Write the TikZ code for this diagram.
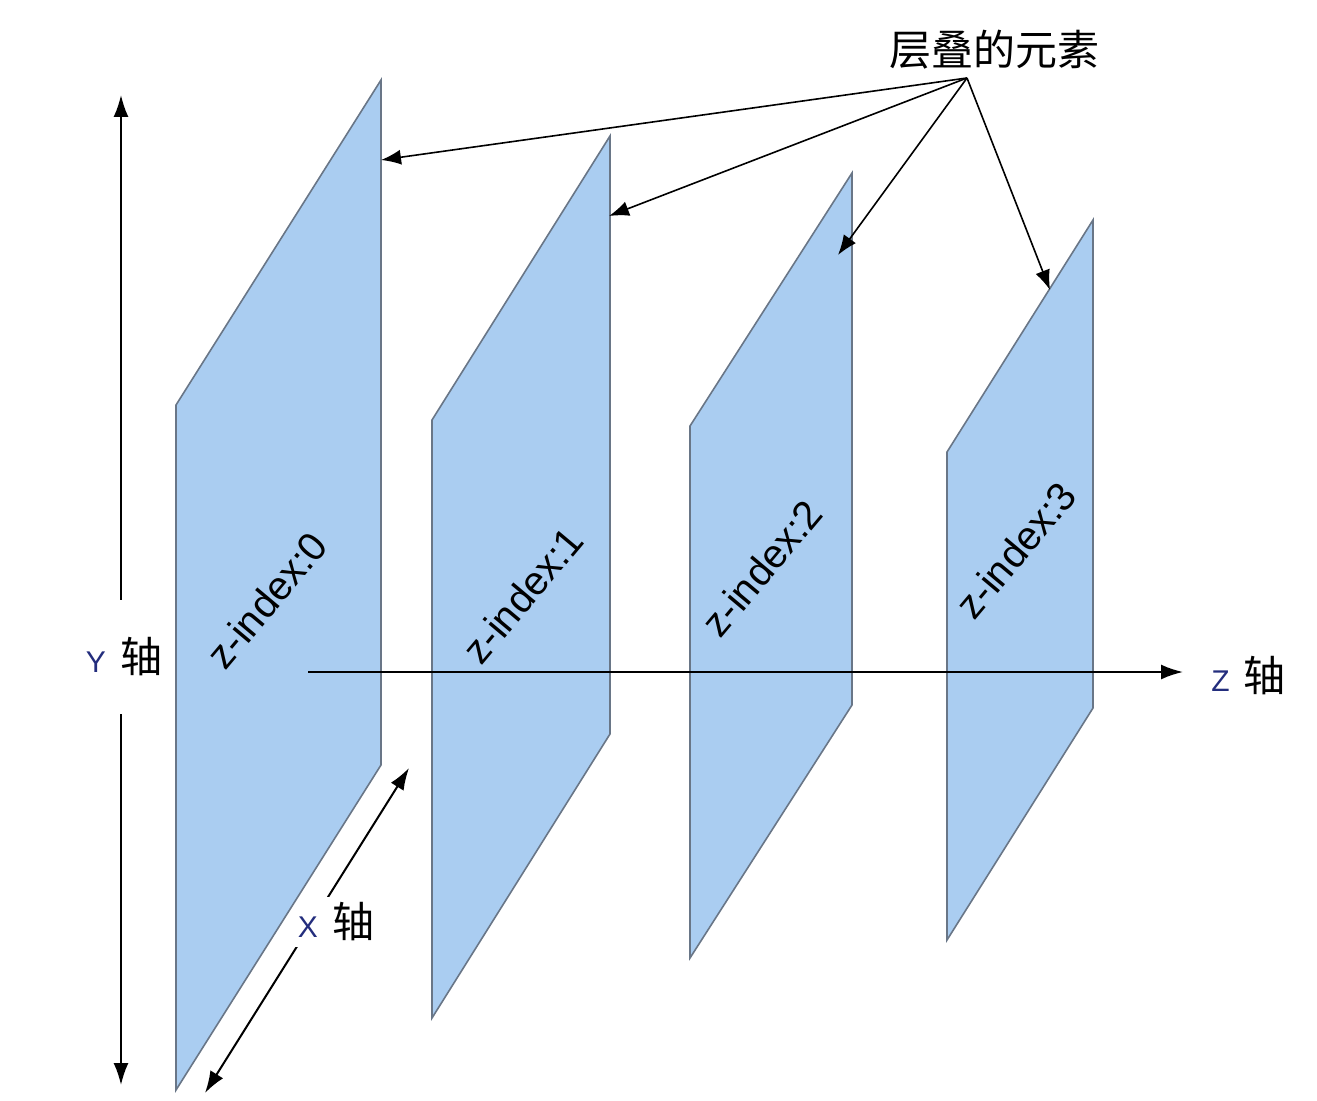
\documentclass[tikz,border=0pt]{standalone}
\usepackage{fontspec}
\setmainfont{Liberation Sans}
\newfontfamily\cjk{Noto Sans CJK SC}
\usetikzlibrary{arrows.meta, positioning, calc}
\definecolor{layerFill}{RGB}{170,205,241}
\definecolor{layerEdge}{RGB}{105,118,135}
\definecolor{axisLetter}{RGB}{35,45,125}
\newcommand{\axisname}[1]{{\fontsize{15}{15}\selectfont\color{axisLetter}#1}\hspace{7pt}{\cjk\fontsize{21}{21}\selectfont 轴}}

\begin{document}
\begin{tikzpicture}[
    x=0.5pt, y=-0.5pt,
    layer/.style={draw=layerEdge, line width=0.8pt, fill=layerFill},
    layerLabel/.style={rotate=50, font=\fontsize{20}{20}\selectfont, inner sep=0pt},
    axisArrow/.style={{Latex[length=11pt,width=7.5pt]}-{Latex[length=11pt,width=7.5pt]}, line width=1pt},
    zArrow/.style={-{Latex[length=11pt,width=7.5pt]}, line width=1pt},
    tagArrow/.style={-{Latex[length=10pt,width=7.5pt]}, line width=0.8pt},
    axisTag/.style={fill=white, inner xsep=3pt, inner ysep=3pt},
    yTag/.style={fill=white, inner xsep=2pt, inner ysep=19pt}
]
\useasboundingbox (0,0) rectangle (1317,1101);

% ============== X axis (under the layers) ==============
\coordinate (xhi) at (409,768);
\coordinate (xlo) at (205,1093);
\draw[axisArrow] (xlo) -- (xhi);
\node[axisTag] (xname) at (336,922) {\axisname{X}};

% ============== Layers ==============
\foreach \n/\xl/\yl/\xr/\yr/\h in {0/176/405/381/80/685, 1/432/420/610/136/598, 2/690/426/852/173/532, 3/947/452/1093/220/488}{
  \draw[layer] (\xl,\yl) coordinate (l\n tl) -- (\xr,\yr) coordinate (l\n tr)
    -- (\xr,{\yr+\h}) coordinate (l\n br) -- (\xl,{\yl+\h}) coordinate (l\n bl) -- cycle;
}
\node[layerLabel] (z0) at (267,600) {z-index:0};
\node[layerLabel] (z1) at (523,595) {z-index:1};
\node[layerLabel] (z2) at (762,568) {z-index:2};
\node[layerLabel] (z3) at (1016,550) {z-index:3};

% ============== Y / Z axes ==============
\coordinate (ytop) at (121,95);
\coordinate (ybot) at (121,1085);
\draw[axisArrow] (ytop) -- (ybot);
\node[yTag] (yname) at (124,657) {\axisname{Y}};

\node[anchor=west, inner sep=0pt] (zname) at (1211,676) {\axisname{Z}};
\coordinate (zstart) at (308,672);
\draw[zArrow] (zstart) -- ([xshift=-14pt]zname.west |- zstart);

% ============== Stacked elements ==============
\node[font=\cjk\fontsize{21}{21}\selectfont, inner sep=1pt] (stack) at (994,50) {层叠的元素};
\coordinate (fan) at (967,78);
\draw[tagArrow] (fan) -- (381,160);
\draw[tagArrow] (fan) -- (609,216);
\draw[tagArrow] (fan) -- (838,255);
\draw[tagArrow] (fan) -- (1050,290);
\end{tikzpicture}
\end{document}
